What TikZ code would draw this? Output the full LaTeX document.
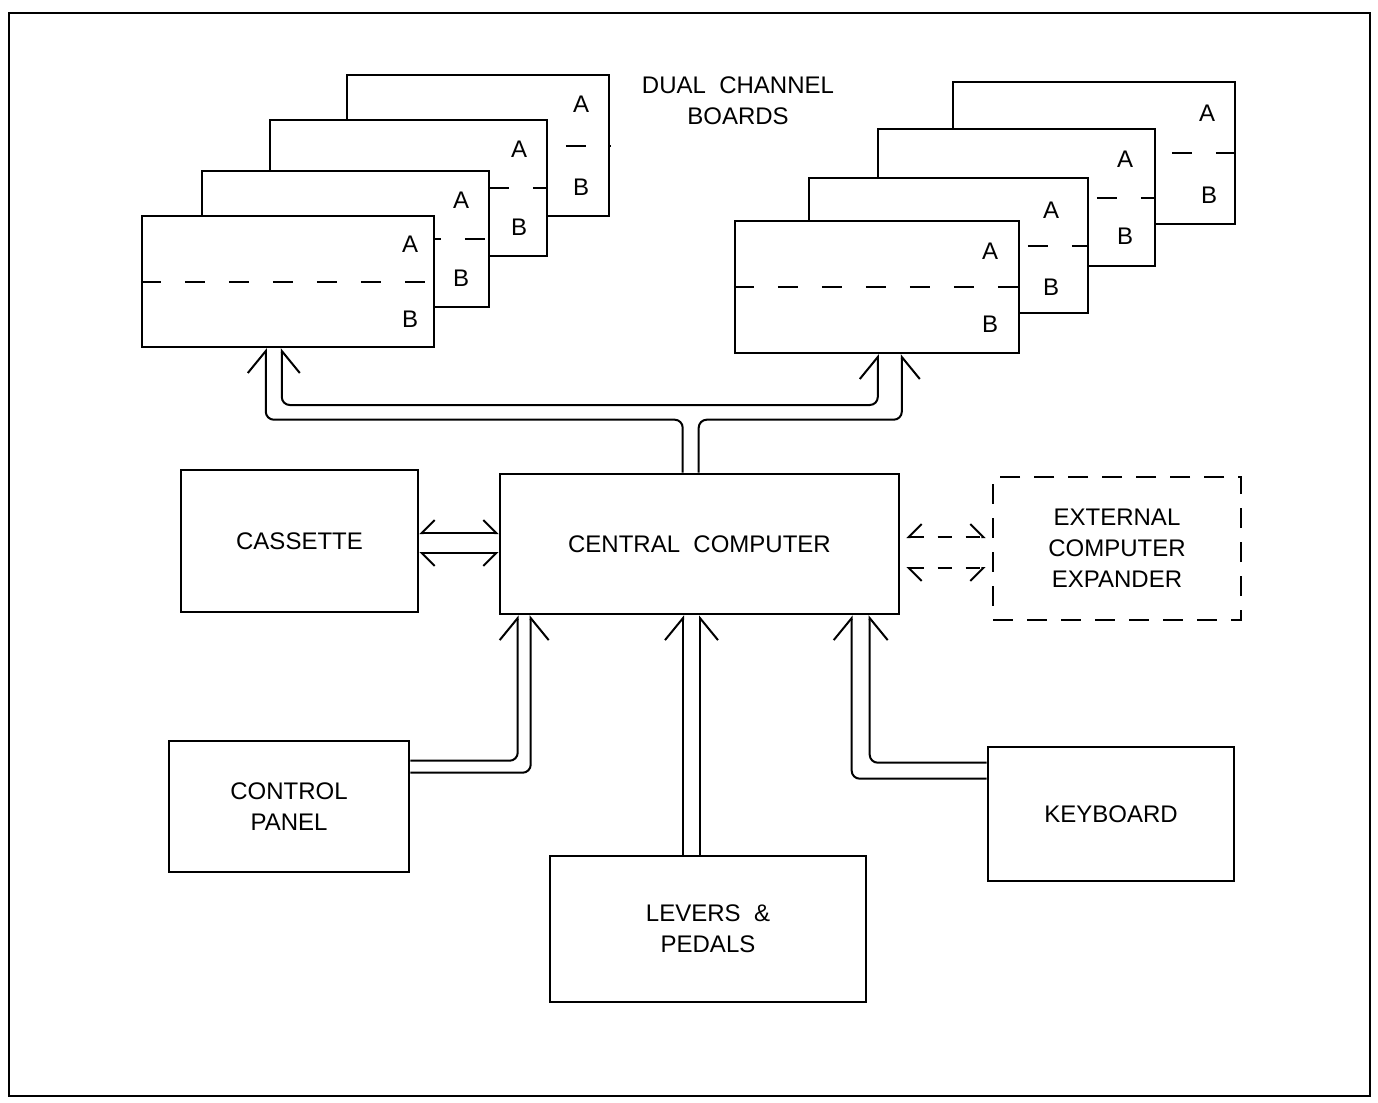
\documentclass[tikz,border=0pt]{standalone}
\usepackage{fontspec}
\setmainfont{Liberation Sans}
\usepackage{tikz}
\usetikzlibrary{arrows.meta,positioning}

\begin{document}
\begin{tikzpicture}[
    x=0.5pt, y=-0.5pt,
    font=\fontsize{12}{15.5}\selectfont,
    box/.style={rectangle, draw, line width=1.3pt, fill=white, align=center, inner sep=0pt},
    board/.style={box, line width=1.2pt},
    tag/.style={inner sep=0pt},
    sep/.style={line width=1pt, dash pattern=on 10pt off 12pt},
    bus/.style={line width=1pt, rounded corners=4pt},
    wire/.style={line width=1pt},
    bigleft/.tip={Straight Barb[harpoon, length=11pt, width=18pt, line width=1pt]},
    bigright/.tip={Straight Barb[harpoon, swap, length=11pt, width=18pt, line width=1pt]},
    smallleft/.tip={Straight Barb[harpoon, length=6.5pt, width=13pt, line width=1pt]},
    smallright/.tip={Straight Barb[harpoon, swap, length=6.5pt, width=13pt, line width=1pt]},
]
    \useasboundingbox (0,0) rectangle (1378,1103);
    \draw[line width=1pt] (9,13) rectangle (1370,1096);

    % left stack of boards, back to front
    \node[board, minimum width=131pt, minimum height=70.5pt] (L4) at (478,145.5) {};
    \draw[sep] (L4.west) -- (L4.east);
    \node[board, minimum width=138.5pt, minimum height=68pt] (L3) at (408.5,188) {};
    \draw[sep] (L3.west) -- (L3.east);
    \node[board, minimum width=143.5pt, minimum height=68pt] (L2) at (345.5,239) {};
    \draw[sep] (L2.west) -- (L2.east);
    \node[board, minimum width=146pt, minimum height=65.5pt] (L1) at (288,281.5) {};
    \draw[sep] (L1.west) -- (L1.east);
    \node[tag] at ([shift={(-29,30)}]L4.north east) {A};
    \node[tag] at ([shift={(-29,-30)}]L4.south east) {B};
    \node[tag] at ([shift={(-29,30)}]L3.north east) {A};
    \node[tag] at ([shift={(-29,-30)}]L3.south east) {B};
    \node[tag] at ([shift={(-29,30)}]L2.north east) {A};
    \node[tag] at ([shift={(-29,-30)}]L2.south east) {B};
    \node[tag] at ([shift={(-25,29)}]L1.north east) {A};
    \node[tag] at ([shift={(-25,-29)}]L1.south east) {B};

    % right stack of boards, back to front
    \node[board, minimum width=141pt, minimum height=71pt] (R4) at (1094,153) {};
    \draw[sep] (R4.west) -- (R4.east);
    \node[board, minimum width=138.5pt, minimum height=68.5pt] (R3) at (1016.5,197.5) {};
    \draw[sep] (R3.west) -- (R3.east);
    \node[board, minimum width=139.5pt, minimum height=67.5pt] (R2) at (948.5,245.5) {};
    \draw[sep] (R2.west) -- (R2.east);
    \node[board, minimum width=142pt, minimum height=66pt] (R1) at (877,287) {};
    \draw[sep] (R1.west) -- (R1.east);
    \node[tag] at ([shift={(-29,32)}]R4.north east) {A};
    \node[tag] at ([shift={(-27,-30)}]R4.south east) {B};
    \node[tag] at ([shift={(-31,31)}]R3.north east) {A};
    \node[tag] at ([shift={(-31,-31)}]R3.south east) {B};
    \node[tag] at ([shift={(-38,33)}]R2.north east) {A};
    \node[tag] at ([shift={(-38,-27)}]R2.south east) {B};
    \node[tag] at ([shift={(-30,31)}]R1.north east) {A};
    \node[tag] at ([shift={(-30,-30)}]R1.south east) {B};

    \node[align=center] (title) at (738,101) {DUAL\ \ CHANNEL\\BOARDS};

    \node[box, minimum width=199.5pt, minimum height=70pt] (cc) at (699.5,544) {CENTRAL\ \ COMPUTER};
    \node[box, minimum width=118.5pt, minimum height=71pt] (cs) at (299.5,541) {CASSETTE};
    \node[box, dash pattern=on 10pt off 7pt, minimum width=124pt, minimum height=71.5pt] (ext) at (1117,548.5) {EXTERNAL\\COMPUTER\\EXPANDER};
    \node[box, minimum width=120pt, minimum height=65.5pt] (cp) at (289,806.5) {CONTROL\\PANEL};
    \node[box, minimum width=158pt, minimum height=73pt] (lv) at (708,929) {LEVERS \ \&\\PEDALS};
    \node[box, minimum width=123pt, minimum height=67pt] (kb) at (1111,814) {KEYBOARD};

    % bus up to the boards
    \draw[bus, {bigright}-{bigleft}] ([xshift=70.5pt]L1.south west) |- ([xshift=-3.75pt]cc.north |- 0,405) -| ([xshift=72pt]R1.south west);
    \draw[bus, -{bigleft}] ([xshift=92pt]cc.north west) -- ++(0,-53) -| ([xshift=62.5pt]L1.south west);
    \draw[bus, -{bigright}] ([xshift=100pt]cc.north west) -- ++(0,-53) -| ([xshift=84pt]R1.south west);

    % cassette and expander
    \draw[wire, {smallright}-{smallleft}] ([yshift=4pt]cs.east) -- ([yshift=5.5pt]cc.west);
    \draw[wire, {smallleft}-{smallright}] ([yshift=-6pt]cs.east) -- ([yshift=-4.5pt]cc.west);
    \draw[wire, dash pattern=on 7pt off 7pt, shorten <=3pt, shorten >=3pt, {smallright}-{smallleft}] ([yshift=3.5pt]cc.east) -- ([yshift=5.75pt]ext.west);
    \draw[wire, dash pattern=on 7pt off 7pt, shorten <=3pt, shorten >=3pt, {smallleft}-{smallright}] ([yshift=-12pt]cc.east) -- ([yshift=-9.75pt]ext.west);

    % inputs to the central computer
    \draw[bus, -{bigleft}] ([yshift=-10.5pt]cp.north east) -| ([xshift=9.5pt]cc.south west);
    \draw[bus, -{bigright}] ([yshift=-16.5pt]cp.north east) -| ([xshift=16pt]cc.south west);
    \draw[bus, -{bigleft}] ([xshift=-12.5pt]lv.north) -- ([xshift=-8.25pt]cc.south);
    \draw[bus, -{bigright}] ([xshift=-4pt]lv.north) -- ([xshift=0.25pt]cc.south);
    \draw[bus, -{bigright}] ([yshift=-8.5pt]kb.north west) -| ([xshift=185.5pt]cc.south west);
    \draw[bus, -{bigleft}] ([yshift=-16.5pt]kb.north west) -| ([xshift=176.5pt]cc.south west);
\end{tikzpicture}
\end{document}
